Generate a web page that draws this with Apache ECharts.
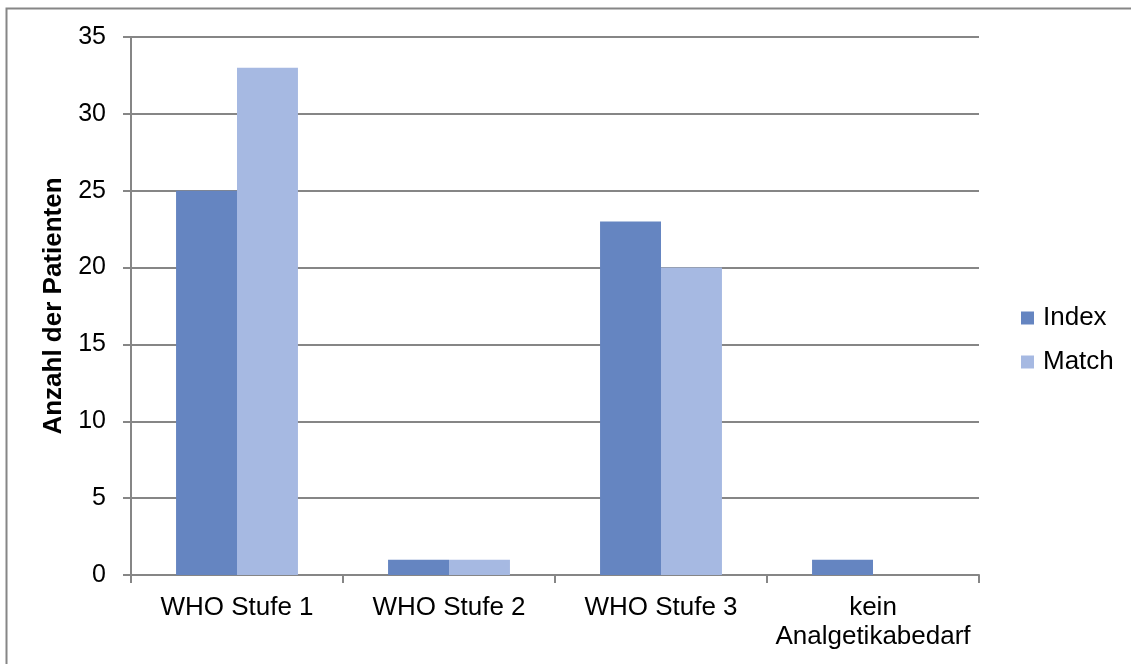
<!DOCTYPE html>
<html>
<head>
<meta charset="utf-8">
<script src="https://cdn.jsdelivr.net/npm/echarts@6/dist/echarts.min.js"></script>
<style>
html,body{margin:0;padding:0;background:#fff;}
#main{width:1131px;height:664px;}
</style>
</head>
<body>
<div id="main"></div>
<script>
// 数据
var categories = ['WHO Stufe 1', 'WHO Stufe 2', 'WHO Stufe 3', 'kein\nAnalgetikabedarf'];
var seriesNames = ['Index', 'Match'];
var indexValues = [25, 1, 23, 1];
var matchValues = [33, 1, 20, 0];
var yTicks = [0, 5, 10, 15, 20, 25, 30, 35];

var font = 'Arial, "Liberation Sans", sans-serif';
var myChart = echarts.init(document.getElementById('main'));
var option = {
    backgroundColor: '#fff',
    animation: false,
    textStyle: { fontFamily: font },
    graphic: [{
        type: 'polyline',
        shape: { points: [[6.5, 700], [6.5, 8.5], [1200, 8.5]] },
        style: { fill: 'none', stroke: '#868686', lineWidth: 2 },
        z: -1
    }],
    grid: { left: 131, right: 152, top: 37, bottom: 89 },
    legend: {
        orient: 'vertical',
        left: 1016,
        top: 300,
        padding: 5,
        itemWidth: 13,
        itemHeight: 13,
        itemGap: 18,
        icon: 'rect',
        data: seriesNames,
        textStyle: { fontSize: 26, color: '#000', lineHeight: 26, fontFamily: font, padding: [0, 0, 0, 4] }
    },
    xAxis: {
        type: 'category',
        data: categories,
        axisLine: { lineStyle: { color: '#868686', width: 2 } },
        axisTick: { show: true, length: 8, alignWithLabel: false, lineStyle: { color: '#868686', width: 2 } },
        axisLabel: { color: '#000', fontSize: 26, lineHeight: 29, margin: 18, interval: 0, fontFamily: font }
    },
    yAxis: {
        type: 'value',
        min: 0,
        max: 35,
        interval: 5,
        name: 'Anzahl der Patienten',
        nameLocation: 'middle',
        nameGap: 59,
        nameTextStyle: { fontSize: 26, fontWeight: 'bold', color: '#000', fontFamily: font },
        axisLine: { show: true, lineStyle: { color: '#868686', width: 2 } },
        axisTick: { show: true, length: 8, inside: false, lineStyle: { color: '#868686', width: 2 } },
        axisLabel: { color: '#000', fontSize: 25, margin: 25, fontFamily: font },
        splitLine: { lineStyle: { color: '#868686', width: 2 } }
    },
    series: [
        {
            name: seriesNames[0],
            type: 'bar',
            data: indexValues,
            barGap: '0%',
            barCategoryGap: '42.5%',
            itemStyle: { color: '#6585C1' }
        },
        {
            name: seriesNames[1],
            type: 'bar',
            data: matchValues,
            itemStyle: { color: '#A6B9E2' }
        }
    ]
};
myChart.setOption(option);
</script>
</body>
</html>
